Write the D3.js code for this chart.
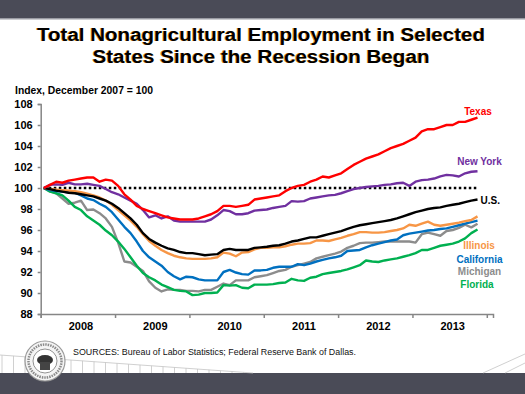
<!DOCTYPE html>
<html>
<head>
<meta charset="utf-8">
<script src="https://cdn.jsdelivr.net/npm/d3@7"></script>
<style>
  html, body { margin: 0; padding: 0; background: #fff; }
  svg { display: block; font-family: "Liberation Sans", Arial, sans-serif; }
</style>
</head>
<body>
<svg id="chart" width="525" height="394"></svg>
<script>
// index, Dec 2007 = 100, monthly Dec 2007 .. Oct 2013
var texas = [100.0, 100.3, 100.6, 100.5, 100.7, 100.8, 100.9, 101.0, 101.0, 100.6, 100.8, 100.7,
  100.2, 99.4, 98.9, 98.3, 98.0, 97.8, 97.6, 97.4, 97.2, 97.1, 97.0, 97.0,
  97.0, 97.1, 97.3, 97.5, 97.8, 98.3, 98.3, 98.2, 98.3, 98.4, 98.9, 99.0,
  99.1, 99.2, 99.3, 99.7, 100.0, 100.2, 100.3, 100.6, 100.8, 101.1, 101.0, 101.2,
  101.4, 101.8, 102.2, 102.5, 102.8, 103.0, 103.2, 103.5, 103.8, 104.0, 104.2, 104.5,
  104.8, 105.4, 105.6, 105.6, 105.8, 106.0, 106.0, 106.3, 106.3, 106.5, 106.7];
var newYork = [100.0, 100.3, 100.35, 100.3, 100.5, 100.35, 100.35, 100.4, 100.3, 100.2, 99.9, 99.6,
  99.4, 99.1, 98.8, 98.5, 97.9, 97.2, 97.4, 97.1, 97.3, 96.9, 96.8, 96.8,
  96.8, 96.8, 96.8, 97.0, 97.4, 97.9, 97.8, 97.5, 97.5, 97.6, 97.85, 97.9,
  97.95, 98.1, 98.2, 98.3, 98.75, 98.7, 98.75, 99.0, 99.1, 99.2, 99.3, 99.35,
  99.5, 99.7, 99.9, 100.0, 100.1, 100.15, 100.2, 100.3, 100.35, 100.45, 100.5, 100.2,
  100.6, 100.75, 100.8, 100.9, 101.1, 101.25, 101.2, 101.1, 101.4, 101.55, 101.6];
var us = [100.0, 99.9, 99.75, 99.65, 99.55, 99.5, 99.4, 99.3, 99.2, 99.0, 98.8, 98.5,
  98.1, 97.6, 97.1, 96.5, 95.7, 95.15, 94.8, 94.5, 94.25, 94.1, 93.9, 93.8,
  93.8, 93.7, 93.6, 93.65, 93.7, 94.1, 94.2, 94.1, 94.1, 94.1, 94.3, 94.35,
  94.4, 94.5, 94.55, 94.7, 94.9, 95.0, 95.15, 95.3, 95.3, 95.45, 95.6, 95.75,
  95.9, 96.1, 96.3, 96.45, 96.55, 96.65, 96.75, 96.85, 96.95, 97.1, 97.3, 97.5,
  97.7, 97.85, 98.0, 98.1, 98.15, 98.3, 98.4, 98.5, 98.65, 98.8, 98.9];
var illinois = [100.0, 99.9, 99.85, 99.8, 99.75, 99.7, 99.6, 99.45, 99.3, 99.1, 98.8, 98.4,
  97.9, 97.4, 96.9, 96.3, 95.6, 94.95, 94.5, 94.1, 93.8, 93.55, 93.4, 93.3,
  93.25, 93.25, 93.25, 93.3, 93.4, 93.85, 93.75, 93.5, 93.85, 93.9, 94.15, 94.3,
  94.3, 94.35, 94.35, 94.45, 94.6, 94.7, 94.7, 94.75, 95.0, 95.0, 94.95, 95.1,
  95.25, 95.45, 95.6, 95.8, 95.8, 95.75, 95.75, 95.8, 95.9, 96.0, 96.15, 96.5,
  96.4, 96.6, 96.8, 96.5, 96.4, 96.5, 96.6, 96.7, 96.85, 96.95, 97.3];
var california = [100.0, 99.8, 99.7, 99.65, 99.6, 99.55, 99.3, 99.0, 98.85, 98.5, 98.2, 97.7,
  97.0, 96.3, 95.7, 94.9, 94.0, 93.4, 93.0, 92.6, 92.0, 91.6, 91.3, 91.55,
  91.5, 91.3, 91.2, 91.2, 91.2, 92.0, 92.2, 91.95, 91.8, 91.75, 92.15, 92.15,
  92.2, 92.4, 92.5, 92.5, 92.5, 92.75, 92.65, 92.8, 93.0, 93.15, 93.3, 93.4,
  93.55, 94.0, 94.05, 94.1, 94.35, 94.55, 94.7, 94.85, 95.0, 95.1, 95.5, 95.65,
  95.75, 95.85, 95.95, 96.0, 96.1, 96.15, 96.3, 96.45, 96.6, 96.75, 96.9];
var michigan = [100.0, 99.7, 99.5, 99.0, 98.5, 98.6, 98.8, 97.9, 97.95, 97.6, 97.1, 96.3,
  94.8, 93.0, 92.9, 92.5, 92.1, 91.1, 90.5, 90.15, 90.35, 90.3, 90.3, 90.2,
  90.2, 90.15, 90.3, 90.3, 90.6, 90.9, 90.75, 91.2, 91.2, 91.2, 91.5, 91.6,
  91.7, 91.9, 92.1, 92.2, 92.5, 92.65, 92.8, 92.95, 93.3, 93.45, 93.6, 93.75,
  93.95, 94.3, 94.5, 94.75, 94.8, 94.8, 94.85, 94.9, 94.9, 94.9, 94.9, 94.9,
  94.8, 95.6, 95.75, 95.6, 95.45, 95.9, 96.0, 96.2, 96.5, 96.25, 96.6];
var florida = [100.0, 99.65, 99.5, 99.3, 98.8, 98.2, 97.9, 97.3, 96.9, 96.5, 95.95, 95.5,
  94.9, 94.2, 93.4, 92.6, 91.9, 91.5, 91.2, 90.8, 90.55, 90.3, 90.2, 90.15,
  89.8, 89.85, 90.0, 90.0, 90.05, 90.75, 90.7, 90.75, 90.5, 90.45, 90.8, 90.8,
  90.8, 90.85, 90.95, 91.0, 91.35, 91.2, 91.15, 91.45, 91.55, 91.8, 91.9, 92.0,
  92.1, 92.25, 92.45, 92.65, 93.1, 93.0, 92.95, 93.1, 93.2, 93.3, 93.45, 93.6,
  93.8, 94.1, 94.1, 94.3, 94.5, 94.6, 94.7, 94.9, 95.2, 95.7, 96.05];

var years = ['2008', '2009', '2010', '2011', '2012', '2013'];
var yTicks = [88, 90, 92, 94, 96, 98, 100, 102, 104, 106, 108];
var seriesNames = ['Michigan', 'Florida', 'California', 'Illinois', 'U.S.', 'New York', 'Texas'];
var seriesColors = ['#8c8c8c', '#00b050', '#0070c0', '#f79646', '#000000', '#7030a0', '#ff0000'];

(function() {
  var svg = d3.select('#chart');

  function drawFrame() {
    svg.append('rect').attr('x', 0).attr('y', 0).attr('width', 525).attr('height', 18).attr('fill', '#4a4b57');
    svg.append('rect').attr('x', 0).attr('y', 18).attr('width', 525).attr('height', 1.5).attr('fill', '#9a9ba3');
    svg.append('rect').attr('x', 0).attr('y', 373).attr('width', 525).attr('height', 21).attr('fill', '#4a4b57');

    // fence decoration bottom left
    var fenceG = svg.append('g');
    fenceG.attr('stroke', '#c4c4c4').attr('stroke-width', 0.8).attr('fill', 'none');
    fenceG.append('line').attr('x1', 0).attr('y1', 355).attr('x2', 253).attr('y2', 373);
    d3.range(22).forEach(function(k) {
      var fx = 2 + k * 11.5;
      var fy = 355 + fx * 18 / 253;
      fenceG.append('line').attr('x1', fx).attr('y1', fy).attr('x2', fx).attr('y2', 373);
    });
    fenceG.append('line').attr('x1', 483).attr('y1', 373).attr('x2', 525).attr('y2', 354);
    fenceG.append('line').attr('x1', 505).attr('y1', 373).attr('x2', 525).attr('y2', 363);

    // seal
    var sealG = svg.append('g');
    sealG.attr('transform', 'translate(45,361)');
    sealG.append('circle').attr('r', 20).attr('fill', '#f4f4f4').attr('stroke', '#9a9a9a').attr('stroke-width', 1.2);
    sealG.append('circle').attr('r', 16.5).attr('fill', 'none').attr('stroke', '#8a8a8a').attr('stroke-width', 2.5).attr('stroke-dasharray', '1.5 1');
    sealG.append('circle').attr('r', 12).attr('fill', '#fff').attr('stroke', '#777').attr('stroke-width', 0.8);
    sealG.append('ellipse').attr('cx', 0).attr('cy', -1).attr('rx', 8).attr('ry', 5).attr('fill', '#333');
    sealG.append('rect').attr('x', -5).attr('y', 1).attr('width', 10).attr('height', 8).attr('fill', '#444');
  }

  function drawChart() {
    var titleG = svg.append('g');
    titleG.attr('font-size', 18).attr('font-weight', 'bold').attr('text-anchor', 'middle');
    [['Total Nonagricultural Employment in Selected', 40.5, 448], ['States Since the Recession Began', 62.5, 337]].forEach(function(t) {
      titleG.append('text').attr('x', 260.2).attr('y', t[1] + 0.8).attr('fill', '#e39a2d')
        .attr('textLength', t[2]).attr('lengthAdjust', 'spacingAndGlyphs').text(t[0]);
      titleG.append('text').attr('x', 261).attr('y', t[1]).attr('fill', '#000')
        .attr('textLength', t[2]).attr('lengthAdjust', 'spacingAndGlyphs').text(t[0]);
    });

    svg.append('text').attr('x', 15).attr('y', 94).attr('font-size', 10).attr('font-weight', 'bold')
      .attr('textLength', 138).attr('lengthAdjust', 'spacingAndGlyphs')
      .text('Index, December 2007 = 100');

    var x = d3.scaleLinear().domain([0, 73]).range([40.7, 493]);
    var y = d3.scaleLinear().domain([88, 108]).range([314, 104]);

    var yAxis = svg.append('g');
    yAxis.attr('transform', 'translate(40.7,0)')
      .call(d3.axisLeft(y).tickValues(yTicks).tickSize(3).tickPadding(5).tickFormat(d3.format('d')));
    yAxis.select('.domain').attr('stroke', '#868686').attr('stroke-width', 1.5);
    yAxis.selectAll('.tick line').attr('stroke', '#868686').attr('stroke-width', 1.5);
    yAxis.selectAll('.tick text').attr('font-size', 11).attr('font-weight', 'bold').attr('fill', '#000')
      .attr('font-family', '"Liberation Sans", Arial, sans-serif');

    var xAxis = svg.append('g');
    xAxis.attr('transform', 'translate(0,314)')
      .call(d3.axisBottom(x).tickValues(d3.range(0, 73, 12)).tickSize(4).tickFormat(''));
    xAxis.select('.domain').attr('stroke', '#868686').attr('stroke-width', 1.5);
    xAxis.selectAll('.tick line').attr('stroke', '#868686').attr('stroke-width', 1.5);

    svg.append('g').attr('font-size', 11).attr('font-weight', 'bold').attr('text-anchor', 'middle')
      .selectAll('text').data(years).join('text')
      .attr('x', function(d, i) { return x(i * 12 + 6.5); })
      .attr('y', 330)
      .text(function(d) { return d; });

    svg.append('line')
      .attr('x1', x(0.5)).attr('x2', x(70.5))
      .attr('y1', y(100)).attr('y2', y(100))
      .attr('stroke', '#000').attr('stroke-width', 2.5).attr('stroke-dasharray', '2.5 2.5');

    var allSeries = [michigan, florida, california, illinois, us, newYork, texas];
    var lineGen = d3.line()
      .x(function(d, i) { return x(i + 0.5); })
      .y(function(d) { return y(d); });

    svg.append('g').selectAll('path').data(allSeries).join('path')
      .attr('d', lineGen)
      .attr('fill', 'none')
      .attr('stroke', function(d, i) { return seriesColors[i]; })
      .attr('stroke-width', 2.4)
      .attr('stroke-linejoin', 'round');

    var labelPos = {
      'Texas': [478, 115, 'middle'],
      'New York': [479.5, 165, 'middle'],
      'U.S.': [480.5, 203.5, 'start'],
      'Illinois': [479, 249, 'middle'],
      'California': [479.5, 262.5, 'middle'],
      'Michigan': [479.5, 274.5, 'middle'],
      'Florida': [477, 288, 'middle']
    };
    svg.append('g').attr('font-size', 10).attr('font-weight', 'bold')
      .selectAll('text').data(seriesNames).join('text')
      .attr('x', function(d) { return labelPos[d][0]; })
      .attr('y', function(d) { return labelPos[d][1]; })
      .attr('text-anchor', function(d) { return labelPos[d][2]; })
      .attr('fill', function(d, i) { return seriesColors[i]; })
      .text(function(d) { return d; });

    svg.append('text').attr('x', 73).attr('y', 355).attr('font-size', 8.5).attr('fill', '#111')
      .attr('textLength', 283).attr('lengthAdjust', 'spacingAndGlyphs')
      .text('SOURCES: Bureau of Labor Statistics; Federal Reserve Bank of Dallas.');
  }

  try { drawChart(); } catch (e) {
    svg.append('text').attr('x', 10).attr('y', 200).attr('font-size', 9).attr('fill', 'red').text('chart: ' + e.message);
  }
  try { drawFrame(); } catch (e) {
    svg.append('text').attr('x', 10).attr('y', 215).attr('font-size', 9).attr('fill', 'red').text('frame: ' + e.message);
  }
})();
</script>
</body>
</html>
